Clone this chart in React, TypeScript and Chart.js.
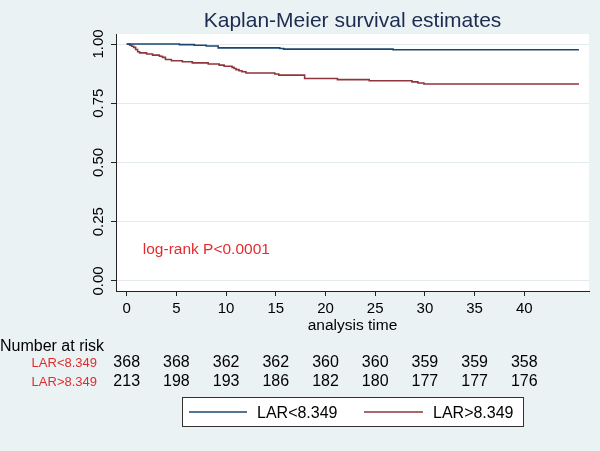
import React, { useEffect, useRef } from 'react';
import { Chart, registerables } from 'chart.js';

Chart.register(...registerables);

const FONT = '"Liberation Sans", Arial, Helvetica, sans-serif';
const TITLE = 'Kaplan-Meier survival estimates';
const X_TITLE = 'analysis time';
const RISK_HEADER = 'Number at risk';
const GROUPS = ['LAR<8.349', 'LAR>8.349'];
const ANNOTATION = 'log-rank P<0.0001';

const xTickValues = [0, 5, 10, 15, 20, 25, 30, 35, 40];
const yTickValues = [0, 0.25, 0.5, 0.75, 1];

// LAR<8.349
const lowTimes = [0, 5.3, 6.8, 8.0, 9.2, 15.4, 15.8, 26.8, 45.5];
const lowSurv = [1, 0.9973, 0.9946, 0.9918, 0.9837, 0.981, 0.9783, 0.9755, 0.9755];

// LAR>8.349
const highTimes = [
  0, 0.3, 0.5, 0.7, 0.9, 1.1, 1.3, 2.0, 2.6, 3.3, 3.6, 3.9, 4.5, 5.6, 6.6, 8.2, 9.3, 9.8,
  10.6, 10.8, 11.0, 11.3, 11.6, 12.0, 14.9, 15.3, 17.9, 21.2, 24.4, 28.7, 29.3, 29.9, 45.5,
];
const highSurv = [
  1, 0.9953, 0.9906, 0.9859, 0.9765, 0.9671, 0.9624, 0.9577, 0.9531, 0.9484, 0.9437, 0.9343,
  0.9296, 0.9249, 0.9202, 0.9155, 0.9108, 0.9061, 0.9014, 0.8967, 0.892, 0.8873, 0.8826,
  0.8779, 0.8732, 0.8685, 0.8545, 0.8498, 0.8451, 0.8404, 0.8357, 0.831, 0.831,
];

const riskTimes = [0, 5, 10, 15, 20, 25, 30, 35, 40];
const riskLow = [368, 368, 362, 362, 360, 360, 359, 359, 358];
const riskHigh = [213, 198, 193, 186, 182, 180, 177, 177, 176];

const BG = '#eaf2f3';
const BLUE = '#1a476f';
const MAROON = '#90353b';
const RED_TEXT = '#e32b2f';
const TITLE_COLOR = '#1c2b4f';
const AXIS = '#222222';

const annX = 1.62;
const annY = 0.114;

const decor = {
  id: 'decor',
  beforeDraw(chart: any) {
    const { ctx, chartArea: a, width, height } = chart;
    ctx.save();
    ctx.fillStyle = BG;
    ctx.fillRect(0, 0, width, height);
    ctx.fillStyle = '#ffffff';
    ctx.fillRect(a.left, a.top, a.right - a.left, a.bottom - a.top);
    ctx.restore();
  },
  afterDraw(chart: any) {
    const { ctx, chartArea: a, scales } = chart;
    const xs = scales.x;
    const ys = scales.y;
    ctx.save();
    ctx.textBaseline = 'alphabetic';

    // title
    ctx.font = `21px ${FONT}`;
    ctx.fillStyle = TITLE_COLOR;
    ctx.textAlign = 'center';
    ctx.fillText(TITLE, (a.left + a.right) / 2, 27);

    // annotation
    ctx.font = `15.5px ${FONT}`;
    ctx.fillStyle = RED_TEXT;
    ctx.textAlign = 'left';
    ctx.fillText(ANNOTATION, xs.getPixelForValue(annX), ys.getPixelForValue(annY));

    // number at risk
    ctx.font = `16px ${FONT}`;
    ctx.fillStyle = '#000';
    ctx.textAlign = 'left';
    ctx.fillText(RISK_HEADER, 0, 351);

    const rows = [riskLow, riskHigh];
    const baselines = [367, 386];
    rows.forEach((row, r) => {
      ctx.font = `13px ${FONT}`;
      ctx.fillStyle = RED_TEXT;
      ctx.textAlign = 'right';
      ctx.fillText(GROUPS[r], 97, baselines[r]);
      ctx.font = `16px ${FONT}`;
      ctx.fillStyle = '#000';
      ctx.textAlign = 'center';
      row.forEach((n, i) => {
        ctx.fillText(String(n), xs.getPixelForValue(riskTimes[i]), baselines[r]);
      });
    });

    // legend
    ctx.fillStyle = '#ffffff';
    ctx.fillRect(182.5, 397.5, 341, 29);
    ctx.strokeStyle = '#333';
    ctx.lineWidth = 1;
    ctx.strokeRect(182.5, 397.5, 341, 29);
    const items = [
      { color: BLUE, x0: 189, x1: 247, tx: 257 },
      { color: MAROON, x0: 364, x1: 423, tx: 433 },
    ];
    items.forEach((it, i) => {
      ctx.strokeStyle = it.color;
      ctx.lineWidth = 1.5;
      ctx.beginPath();
      ctx.moveTo(it.x0, 412);
      ctx.lineTo(it.x1, 412);
      ctx.stroke();
      ctx.font = `16px ${FONT}`;
      ctx.fillStyle = '#000';
      ctx.textAlign = 'left';
      ctx.fillText(GROUPS[i], it.tx, 418);
    });

    ctx.restore();
  },
};

export default function App() {
  const ref = useRef<HTMLCanvasElement | null>(null);

  useEffect(() => {
    if (!ref.current) return;
    const chart = new Chart(ref.current, {
      type: 'line',
      data: {
        datasets: [
          {
            label: GROUPS[0],
            data: lowTimes.map((t, i) => ({ x: t, y: lowSurv[i] })),
            borderColor: BLUE,
            borderWidth: 1.6,
            pointRadius: 0,
            stepped: true,
            fill: false,
          },
          {
            label: GROUPS[1],
            data: highTimes.map((t, i) => ({ x: t, y: highSurv[i] })),
            borderColor: MAROON,
            borderWidth: 1.6,
            pointRadius: 0,
            stepped: true,
            fill: false,
          },
        ],
      },
      options: {
        responsive: false,
        animation: false,
        layout: { padding: { left: 0, top: 34, right: 11, bottom: 116.4 } },
        plugins: {
          legend: { display: false },
          title: { display: false },
          tooltip: { enabled: false },
        },
        scales: {
          x: {
            type: 'linear',
            min: -1.076,
            max: 46.51,
            afterBuildTicks: (s: any) => {
              s.ticks = xTickValues.map((v) => ({ value: v }));
            },
            afterFit: (s: any) => {
              s.height = 43.6;
            },
            ticks: {
              font: { family: FONT, size: 15 },
              color: '#000',
              padding: 4,
              maxRotation: 0,
              autoSkip: false,
            },
            grid: { display: true, drawOnChartArea: false, tickLength: 5, tickColor: AXIS },
            border: { display: true, color: AXIS, width: 1 },
            title: {
              display: true,
              text: X_TITLE,
              font: { family: FONT, size: 15.5 },
              color: '#000',
              padding: 0,
            },
          },
          y: {
            type: 'linear',
            min: -0.0422,
            max: 1.0422,
            afterBuildTicks: (s: any) => {
              s.ticks = yTickValues.map((v) => ({ value: v }));
            },
            afterFit: (s: any) => {
              s.width = 116;
            },
            ticks: {
              font: { family: FONT, size: 15 },
              color: '#000',
              minRotation: 90,
              maxRotation: 90,
              crossAlign: 'center',
              padding: -2,
              callback: (v: any) => Number(v).toFixed(2),
            },
            grid: { color: '#e3ebee', tickColor: AXIS, tickLength: 5 },
            border: { display: true, color: AXIS, width: 1 },
          },
        },
      },
      plugins: [decor],
    } as any);
    return () => chart.destroy();
  }, []);

  return (
    <div style={{ position: 'fixed', left: 0, top: 0, width: 600, height: 451, background: BG }}>
      <canvas ref={ref} width={600} height={451} style={{ display: 'block' }} />
    </div>
  );
}
